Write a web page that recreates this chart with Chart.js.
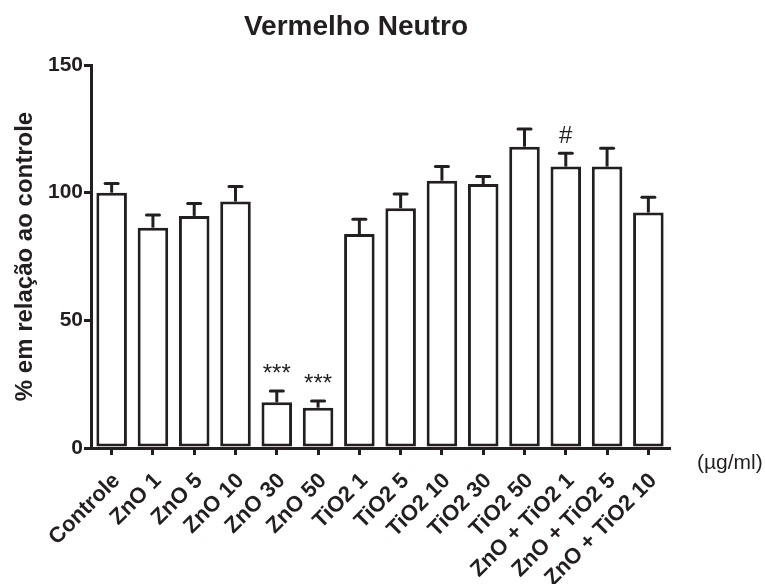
<!DOCTYPE html>
<html lang="pt">
<head>
<meta charset="utf-8">
<title>Vermelho Neutro</title>
<script src="https://cdn.jsdelivr.net/npm/chart.js@4.4.1/dist/chart.umd.min.js"></script>
<style>
  html, body { margin: 0; padding: 0; background: #fff; }
  #wrap { width: 765px; height: 584px; }
</style>
</head>
<body>
<div id="wrap"><canvas id="vnChart" width="765" height="584"></canvas></div>
<script>
// Neutral red uptake, % of control (mean + SEM)
const groups = [
    'Controle', 'ZnO 1', 'ZnO 5', 'ZnO 10', 'ZnO 30', 'ZnO 50',
    'TiO2 1', 'TiO2 5', 'TiO2 10', 'TiO2 30', 'TiO2 50',
    'ZnO + TiO2 1', 'ZnO + TiO2 5', 'ZnO + TiO2 10'
];
const means = [100, 86.3, 90.9, 96.5, 17.9, 15.8, 83.8, 93.9, 104.7, 103.4, 118.0, 110.2, 110.2, 92.2];
const sem = [3.6, 5.0, 4.9, 5.9, 4.4, 2.6, 5.8, 5.6, 5.5, 2.9, 6.9, 5.2, 7.2, 6.0];
const marks = ['', '', '', '', '***', '***', '', '', '', '', '', '#', '', ''];
const yTicks = [0, 50, 100, 150];

const INK = '#231f20';
const FONT = "'Liberation Sans', Arial, Helvetica, sans-serif";

// Error bars (upper arm only), significance marks, title and unit label
const extras = {
    id: 'extras',
    afterDatasetsDraw(chart) {
        const { ctx } = chart;
        const y = chart.scales.y;
        const meta = chart.getDatasetMeta(0);
        ctx.save();
        ctx.strokeStyle = INK;
        ctx.fillStyle = INK;
        ctx.lineWidth = 3;
        meta.data.forEach((bar, i) => {
            const top = y.getPixelForValue(means[i] + sem[i]);
            ctx.lineCap = 'butt';
            ctx.beginPath();
            ctx.moveTo(bar.x, bar.y);
            ctx.lineTo(bar.x, top);
            ctx.stroke();
            ctx.lineCap = 'round';
            ctx.beginPath();
            ctx.moveTo(bar.x - 6.5, top);
            ctx.lineTo(bar.x + 6.5, top);
            ctx.stroke();
            if (marks[i]) {
                ctx.font = '24px ' + FONT;
                ctx.textAlign = 'center';
                ctx.textBaseline = 'alphabetic';
                ctx.fillText(marks[i], bar.x, top - 10);
            }
        });
        ctx.restore();
    },
    afterDraw(chart) {
        const { ctx } = chart;
        ctx.save();
        ctx.fillStyle = INK;
        ctx.textAlign = 'center';
        ctx.textBaseline = 'middle';
        ctx.font = 'bold 28px ' + FONT;
        ctx.fillText('Vermelho Neutro', 356, 27);
        ctx.textAlign = 'left';
        ctx.font = '21px ' + FONT;
        ctx.fillText('(µg/ml)', 697, 463);
        ctx.restore();
    }
};

new Chart(document.getElementById('vnChart'), {
    type: 'bar',
    data: {
        labels: groups,
        datasets: [{
            data: means,
            backgroundColor: '#ffffff',
            borderColor: INK,
            borderWidth: 3,
            borderSkipped: false,
            categoryPercentage: 1,
            barPercentage: 0.74
        }]
    },
    options: {
        responsive: false,
        animation: false,
        events: [],
        layout: { padding: { left: 0, right: 96, top: 65, bottom: 0 } },
        plugins: {
            legend: { display: false },
            tooltip: { enabled: false }
        },
        scales: {
            x: {
                offset: true,
                afterFit: s => { s.height = 136; },
                border: { display: true, width: 3, color: INK },
                grid: {
                    drawOnChartArea: false,
                    drawTicks: true,
                    tickLength: 7,
                    lineWidth: 3,
                    color: INK,
                    offset: false
                },
                ticks: {
                    color: INK,
                    autoSkip: false,
                    minRotation: 45,
                    maxRotation: 45,
                    padding: 13,
                    labelOffset: 5,
                    font: { family: FONT, size: 22, weight: 'bold' }
                }
            },
            y: {
                min: 0,
                max: 150,
                afterBuildTicks: s => { s.ticks = yTicks.map(v => ({ value: v })); },
                afterFit: s => { s.width = 91; },
                border: { display: true, width: 3, color: INK },
                grid: {
                    drawOnChartArea: false,
                    drawTicks: true,
                    tickLength: 7,
                    lineWidth: 3,
                    color: INK
                },
                ticks: {
                    color: INK,
                    padding: 1,
                    font: { family: FONT, size: 21, weight: 'bold' }
                },
                title: {
                    display: true,
                    text: '% em relação ao controle',
                    color: INK,
                    font: { family: FONT, size: 24, weight: 'bold' },
                    padding: { top: 11, bottom: 0 }
                }
            }
        }
    },
    plugins: [extras]
});
</script>
</body>
</html>
